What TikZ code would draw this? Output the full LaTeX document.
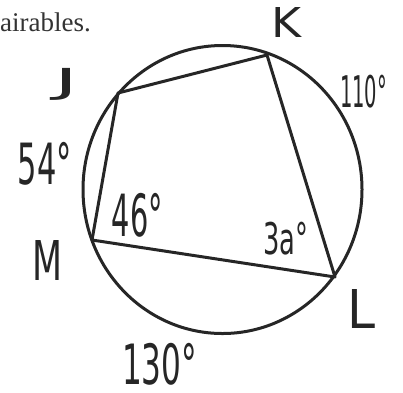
\documentclass[tikz,border=0pt]{standalone}
\usepackage{fontspec}
\setmainfont{Liberation Serif}
\newfontfamily\handfont{DejaVu Sans}
\newcommand\hw[3]{\resizebox*{#1pt}{#2pt}{\handfont #3}}
\begin{document}
\begin{tikzpicture}[x=1pt,y=1pt,
  stroke/.style={line width=3pt,line join=round,line cap=round,color=black!85},
  lbl/.style={inner sep=0pt,anchor=center,text=black!85}]
\useasboundingbox (0,0) rectangle (403,-392);
% header text
\node[inner sep=0pt,anchor=base west,font=\fontsize{27}{27}\selectfont,text=black!80] (hdr) at (0,-31) {airables.};
% circle
\draw[stroke] (222.5,-189.5) ellipse [x radius=139.5, y radius=144];
% vertices
\coordinate (J) at (118,-93);
\coordinate (K) at (267,-55);
\coordinate (L) at (335,-277);
\coordinate (M) at (92,-240);
\draw[stroke] (J) -- (K) -- (L) -- (M) -- cycle;
% labels
\node[lbl] (lK) at (286,-22.5) {\hw{30}{30}{K}};
\node[lbl] (lJ) at (66.5,-84) {\hw{24}{32}{J}};
\node[lbl] (l110) at (363.5,-91.5) {\hw{47}{33}{110°}};
\node[lbl] (l54) at (45,-163.5) {\hw{54}{43}{54°}};
\node[lbl] (l46) at (137.5,-215) {\hw{51}{44}{46°}};
\node[lbl] (l3a) at (285.5,-238.5) {\hw{45}{33}{3a°}};
\node[lbl] (lM) at (48,-260) {\hw{30}{40}{M}};
\node[lbl] (lL) at (361,-308.5) {\hw{28}{39}{L}};
\node[lbl] (l130) at (159.5,-364) {\hw{75}{42}{130°}};
\end{tikzpicture}
\end{document}
